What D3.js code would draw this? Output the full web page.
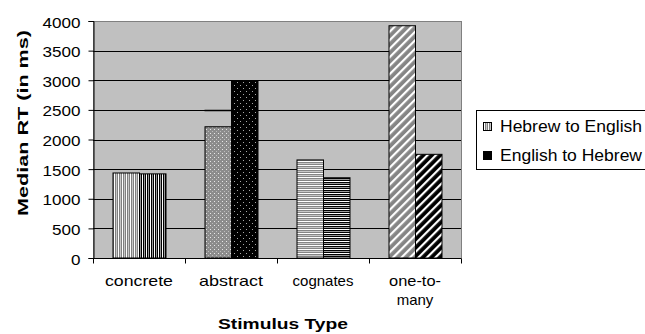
<!DOCTYPE html>
<html>
<head>
<meta charset="utf-8">
<script src="https://cdn.jsdelivr.net/npm/d3@7/dist/d3.min.js"></script>
<style>
  html, body { margin: 0; padding: 0; background: #fff; }
  svg { display: block; font-family: "Liberation Sans", Arial, sans-serif; }
</style>
</head>
<body>
<svg id="chart" width="645" height="334"></svg>
<script>
// Median response times by stimulus type and translation direction
const categories = ["concrete", "abstract", "cognates", "one-to-many"];
const categoryLines = [["concrete"], ["abstract"], ["cognates"], ["one-to-", "many"]];
const seriesNames = ["Hebrew to English", "English to Hebrew"];
const hebrewToEnglish = [1435, 2215, 1655, 3920];
const englishToHebrew = [1420, 2995, 1355, 1750];
// short black marker drawn above the Hebrew-to-English bar
const hebrewMarker = [null, 2500, null, null];
const yTicks = [0, 500, 1000, 1500, 2000, 2500, 3000, 3500, 4000];

const svg = d3.select("#chart");
const plot = { left: 93, right: 461, top: 21, bottom: 258 };
const FONT = 15;

// stretch a text element to a given rendered width
function fit(sel, w) {
  if (w) sel.attr("textLength", w).attr("lengthAdjust", "spacingAndGlyphs");
}

const x0 = d3.scaleBand().domain(categories).range([plot.left, plot.right]);
const x1 = d3.scaleBand().domain(seriesNames).range([0, x0.bandwidth()])
  .paddingInner(0).paddingOuter(0.736);
const y = d3.scaleLinear().domain([0, 4000]).range([plot.bottom, plot.top]);

// ---- fill patterns, one pair per category ----
const defs = svg.append("defs");
function pat(id, w, h, draw) {
  const p = defs.append("pattern").attr("id", id)
    .attr("patternUnits", "userSpaceOnUse").attr("width", w).attr("height", h);
  draw(p);
}
// vertical stripes
pat("vG", 4, 4, p => {
  p.append("rect").attr("width", 4).attr("height", 4).attr("fill", "#808080");
  p.append("rect").attr("x", 1).attr("width", 1).attr("height", 4).attr("fill", "#ffffff");
  p.append("rect").attr("x", 3).attr("width", 1).attr("height", 4).attr("fill", "#c8c8c8");
});
pat("vB", 4, 4, p => {
  p.append("rect").attr("width", 4).attr("height", 4).attr("fill", "#000");
  p.append("rect").attr("x", 1).attr("width", 1).attr("height", 4).attr("fill", "#ffffff");
  p.append("rect").attr("x", 3).attr("width", 1).attr("height", 4).attr("fill", "#9a9a9a");
});
// dotted
pat("dG", 4, 4, p => {
  p.append("rect").attr("width", 4).attr("height", 4).attr("fill", "#8c8c8c");
  p.append("rect").attr("x", 1).attr("y", 1).attr("width", 1).attr("height", 1).attr("fill", "#e8e8e8");
  p.append("rect").attr("x", 3).attr("y", 3).attr("width", 1).attr("height", 1).attr("fill", "#bcbcbc");
});
pat("dB", 6, 6, p => {
  p.append("rect").attr("width", 6).attr("height", 6).attr("fill", "#000");
  p.append("rect").attr("x", 1).attr("y", 1).attr("width", 1).attr("height", 1).attr("fill", "#a8a8a8");
  p.append("rect").attr("x", 4).attr("y", 4).attr("width", 1).attr("height", 1).attr("fill", "#a8a8a8");
});
// horizontal stripes
pat("hG", 4, 4, p => {
  p.append("rect").attr("width", 4).attr("height", 4).attr("fill", "#858585");
  p.append("rect").attr("y", 1).attr("width", 4).attr("height", 1).attr("fill", "#ffffff");
  p.append("rect").attr("y", 3).attr("width", 4).attr("height", 1).attr("fill", "#c8c8c8");
});
pat("hB", 4, 4, p => {
  p.append("rect").attr("width", 4).attr("height", 4).attr("fill", "#000");
  p.append("rect").attr("y", 1).attr("width", 4).attr("height", 1).attr("fill", "#ffffff");
  p.append("rect").attr("y", 3).attr("width", 4).attr("height", 1).attr("fill", "#9a9a9a");
});
// diagonal stripes
function diag(id, base, stripe) {
  const p = defs.append("pattern").attr("id", id)
    .attr("patternUnits", "userSpaceOnUse").attr("width", 6).attr("height", 6)
    .attr("patternTransform", "rotate(45)");
  p.append("rect").attr("width", 6).attr("height", 6).attr("fill", base);
  p.append("rect").attr("width", 2.2).attr("height", 6).attr("fill", stripe);
}
diag("sG", "#858585", "#ffffff");
diag("sB", "#000000", "#ffffff");

const fills = [["vG", "vB"], ["dG", "dB"], ["hG", "hB"], ["sG", "sB"]];

// ---- plot background and gridlines ----
svg.append("rect")
  .attr("x", plot.left + 0.5).attr("y", plot.top + 0.5)
  .attr("width", plot.right - plot.left).attr("height", plot.bottom - plot.top)
  .attr("fill", "#c0c0c0").attr("stroke", "#808080").attr("stroke-width", 1);

svg.append("g").selectAll("line").data(yTicks.filter(d => d > 0 && d < 4000)).join("line")
  .attr("x1", plot.left).attr("x2", plot.right)
  .attr("y1", d => Math.round(y(d)) + 0.5).attr("y2", d => Math.round(y(d)) + 0.5)
  .attr("stroke", "#000").attr("stroke-width", 1);

// ---- bars ----
const rows = categories.map((c, i) => ({
  cat: c, i,
  vals: [hebrewToEnglish[i], englishToHebrew[i]]
}));
const groups = svg.append("g").selectAll("g").data(rows).join("g")
  .attr("transform", d => `translate(${x0(d.cat)},0)`);
groups.selectAll("rect")
  .data(d => d.vals.map((v, k) => ({ v, k, i: d.i, s: seriesNames[k] })))
  .join("rect")
  .attr("x", d => x1(d.s) + 0.5)
  .attr("width", x1.bandwidth())
  .attr("y", d => y(d.v))
  .attr("height", d => y(0) - y(d.v))
  .attr("fill", d => `url(#${fills[d.i][d.k]})`)
  .attr("stroke", "#000").attr("stroke-width", 1);

// marker line
svg.append("g").selectAll("line")
  .data(categories.map((c, i) => ({ c, v: hebrewMarker[i] })).filter(d => d.v != null))
  .join("line")
  .attr("x1", d => x0(d.c) + x1(seriesNames[0]))
  .attr("x2", d => x0(d.c) + x1(seriesNames[0]) + x1.bandwidth())
  .attr("y1", d => Math.round(y(d.v)) + 0.5).attr("y2", d => Math.round(y(d.v)) + 0.5)
  .attr("stroke", "#000").attr("stroke-width", 1.5);

// ---- axes ----
const yAxis = d3.axisLeft(y).tickValues(yTicks).tickFormat(d3.format("d"))
  .tickSize(5).tickPadding(8);
const gy = svg.append("g").attr("transform", `translate(${plot.left + 0.5},0)`).call(yAxis);
gy.select(".domain").attr("stroke", "#000");
gy.selectAll(".tick line").attr("stroke", "#000");
gy.selectAll(".tick text").attr("font-size", FONT).attr("fill", "#000")
  .attr("font-family", "Liberation Sans, Arial, sans-serif")
  .attr("dy", "0.4em")
  .each(function (d) { fit(d3.select(this), String(d).length * 9.5); });

const gx = svg.append("g").attr("transform", `translate(0,${plot.bottom + 0.5})`);
gx.append("line").attr("x1", plot.left).attr("x2", plot.right).attr("stroke", "#000");
gx.selectAll("line.tk")
  .data(categories.map(c => x0(c)).concat([plot.right]))
  .join("line").attr("class", "tk")
  .attr("x1", d => Math.round(d) + 0.5).attr("x2", d => Math.round(d) + 0.5)
  .attr("y1", 0).attr("y2", 5).attr("stroke", "#000");

const labelWidths = [[68], [64], [null], [52, null]];
categories.forEach((c, i) => {
  categoryLines[i].forEach((line, j) => {
    svg.append("text")
      .attr("x", x0(c) + x0.bandwidth() / 2)
      .attr("y", 285.5 + j * 19)
      .attr("text-anchor", "middle").attr("font-size", FONT).attr("fill", "#000")
      .text(line)
      .call(fit, labelWidths[i][j]);
  });
});

// axis titles
svg.append("text")
  .attr("x", 283).attr("y", 329)
  .attr("text-anchor", "middle").attr("font-size", FONT).attr("font-weight", "bold")
  .text("Stimulus Type")
  .call(fit, 130);
svg.append("text")
  .attr("transform", `translate(28,123) rotate(-90)`)
  .attr("text-anchor", "middle").attr("font-size", FONT).attr("font-weight", "bold")
  .text("Median  RT  (in ms)")
  .call(fit, 186);

// ---- legend ----
const lg = svg.append("g").attr("transform", "translate(476,110)");
lg.append("rect").attr("x", 0.5).attr("y", 0.5).attr("width", 200).attr("height", 59)
  .attr("fill", "#fff").attr("stroke", "#000");
seriesNames.forEach((s, k) => {
  const row = lg.append("g").attr("transform", `translate(7,${17 + k * 29})`);
  row.append("rect").attr("x", 0.5).attr("y", -4.5).attr("width", 8).attr("height", 8)
    .attr("fill", k === 0 ? "url(#vG)" : "#000").attr("stroke", "#000");
  row.append("text").attr("x", 17).attr("y", 4.5).attr("font-size", 16).text(s)
    .call(fit, 142);
});
</script>
</body>
</html>
